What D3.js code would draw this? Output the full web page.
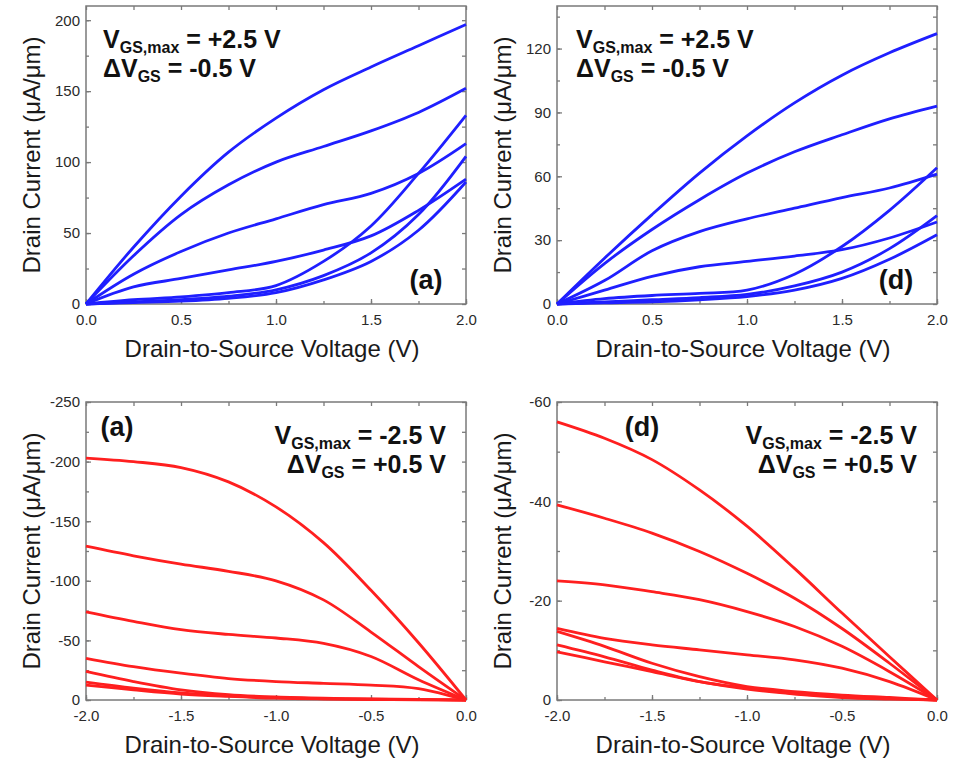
<!DOCTYPE html>
<html>
<head>
<meta charset="utf-8">
<script src="https://cdn.jsdelivr.net/npm/d3@7"></script>
<style>
  body { margin: 0; background: #fff; }
  svg { display: block; }
</style>
</head>
<body>
<svg id="chart" width="956" height="759"></svg>
<script>
// drain voltage sample points
const vdsPos = [0, 0.25, 0.5, 0.75, 1.0, 1.25, 1.5, 1.75, 2.0];
const vdsNeg = [-2.0, -1.75, -1.5, -1.25, -1.0, -0.75, -0.5, -0.25, 0];

// top-left (a), n-type, VGS = 2.5 .. -0.5
const nA = [
    [0, 40, 76, 107, 131, 151, 167, 182, 197],
    [0, 34, 63, 84, 100, 111, 122, 135, 152],
    [0, 21, 37, 50, 60, 70, 78, 92, 113],
    [0, 12, 18, 24, 30, 38, 48, 66, 88],
    [0, 3, 5, 8, 13, 30, 55, 92, 133],
    [0, 1.5, 3, 5.5, 10, 20, 36, 63, 104],
    [0, 1, 2, 4, 8, 17, 30, 52, 86]
];

// top-right (d)
const nD = [
    [0, 21.5, 42, 61.5, 79, 94.5, 107.5, 118, 127],
    [0, 19, 35, 49, 61.5, 71.5, 79.5, 87, 93],
    [0, 11, 25, 34, 40, 45, 50, 54.5, 61],
    [0, 6.5, 13, 17.5, 20, 22.5, 25.5, 31, 38.5],
    [0, 2.5, 4, 5, 6.5, 14, 27, 44, 64],
    [0, 1, 2, 3, 4.5, 8.5, 15, 26, 41.5],
    [0, 0.5, 1, 2, 3.5, 6.5, 12, 21, 32.5]
];

// bottom-left (a), p-type
const pA = [
    [-203, -200, -195, -183, -162, -132, -92, -48, 0],
    [-129, -121, -114, -108, -100, -84, -57, -28, 0],
    [-74, -66, -59, -55, -52, -47.5, -36.5, -17, 0],
    [-35, -28, -22.5, -18, -15.5, -14, -12.5, -9.5, 0],
    [-24, -15.5, -8.5, -4.5, -2.5, -1.5, -1, -0.5, 0],
    [-15, -10, -6, -3.5, -2, -1.2, -0.7, -0.3, 0],
    [-12.5, -8.5, -5, -3, -1.5, -0.8, -0.4, -0.2, 0]
];

// bottom-right (d)
const pD = [
    [-56, -52.7, -48.4, -42.3, -35, -26.5, -17.5, -8.7, 0],
    [-39.3, -36.6, -33.6, -29.9, -25.5, -20.5, -14.4, -7.4, 0],
    [-24, -23.2, -21.8, -20.2, -17.8, -14.8, -10.8, -5.7, 0],
    [-14.4, -12.4, -11.1, -10.1, -9.1, -8.1, -6.4, -3.7, 0],
    [-13.8, -10.8, -7.4, -4.7, -2.7, -1.7, -1.0, -0.5, 0],
    [-11.1, -8.7, -6.0, -3.7, -2.4, -1.3, -0.7, -0.3, 0],
    [-9.7, -7.7, -5.7, -3.7, -2.2, -1.2, -0.5, -0.2, 0]
];

const xTicksPos = [0, 0.5, 1.0, 1.5, 2.0];
const xTicksNeg = [-2.0, -1.5, -1.0, -0.5, 0];
const yTicksA = [0, 50, 100, 150, 200];
const yTicksD = [0, 30, 60, 90, 120];
const yTicksPA = [0, -50, -100, -150, -200, -250];
const yTicksPD = [0, -20, -40, -60];

const FONT = '"Liberation Sans", Arial, sans-serif';
const loc = d3.formatLocale({ decimal: '.', thousands: ',', grouping: [3], currency: ['', ''], minus: '-' });
const f1 = loc.format('.1f');
const f0 = loc.format('d');

const svg = d3.select('#chart');

function drawPanel(p) {
    const x = d3.scaleLinear().domain(p.xDomain).range([p.left, p.right]);
    const y = d3.scaleLinear().domain(p.yDomain).range([p.bottom, p.top]);
    const g = svg.append('g');

    const minorX = d3.range(p.xDomain[0], p.xDomain[1] + 1e-9, 0.25);
    const minorY = d3.range(0, p.yDomain[1] * 1.0001, p.yMinor);

    // axes, ticks inside the frame
    const styleAxis = sel => {
        sel.select('.domain').remove();
        sel.selectAll('line').attr('stroke', '#7a7a7a').attr('stroke-width', 1.3);
        sel.selectAll('text').attr('font-family', FONT).attr('font-size', 15).attr('fill', '#2a2a2a');
    };

    g.append('g').attr('transform', `translate(0,${p.bottom})`)
        .call(d3.axisBottom(x).tickValues(p.xTicks).tickSizeInner(-5).tickSizeOuter(0).tickPadding(10).tickFormat(f1))
        .call(styleAxis);
    g.append('g').attr('transform', `translate(0,${p.bottom})`)
        .call(d3.axisBottom(x).tickValues(minorX).tickSizeInner(-3).tickSizeOuter(0).tickFormat(''))
        .call(styleAxis);
    g.append('g').attr('transform', `translate(0,${p.top})`)
        .call(d3.axisTop(x).tickValues(minorX).tickSizeInner(-4).tickSizeOuter(0).tickFormat(''))
        .call(styleAxis);

    g.append('g').attr('transform', `translate(${p.left},0)`)
        .call(d3.axisLeft(y).tickValues(p.yTicks).tickSizeInner(-5).tickSizeOuter(0).tickPadding(6).tickFormat(f0))
        .call(styleAxis);
    g.append('g').attr('transform', `translate(${p.left},0)`)
        .call(d3.axisLeft(y).tickValues(minorY).tickSizeInner(-3).tickSizeOuter(0).tickFormat(''))
        .call(styleAxis);
    g.append('g').attr('transform', `translate(${p.right},0)`)
        .call(d3.axisRight(y).tickValues(minorY).tickSizeInner(-4).tickSizeOuter(0).tickFormat(''))
        .call(styleAxis);

    g.append('rect')
        .attr('x', p.left).attr('y', p.top)
        .attr('width', p.right - p.left).attr('height', p.bottom - p.top)
        .attr('fill', 'none').attr('stroke', '#7a7a7a').attr('stroke-width', 1.5);

    const line = d3.line()
        .x((d, i) => x(p.xs[i]))
        .y(d => y(d))
        .curve(d3.curveCatmullRom.alpha(0.5));

    g.append('g').selectAll('path')
        .data(p.series)
        .enter().append('path')
        .attr('d', line)
        .attr('fill', 'none')
        .attr('stroke', p.color)
        .attr('stroke-width', 2.8)
        .attr('stroke-linejoin', 'round');

    // axis titles
    g.append('text')
        .attr('x', (p.left + p.right) / 2 - 4)
        .attr('y', p.bottom + 53)
        .attr('text-anchor', 'middle')
        .attr('font-family', FONT).attr('font-size', 24).attr('fill', '#1a1a1a')
        .text('Drain-to-Source Voltage (V)');

    g.append('text')
        .attr('transform', `translate(${p.left - 46},${(p.top + p.bottom) / 2}) rotate(-90)`)
        .attr('text-anchor', 'middle')
        .attr('font-family', FONT).attr('font-size', 24).attr('fill', '#1a1a1a')
        .text('Drain Current (\u03BCA/\u03BCm)');

    // annotation block
    const ann = g.append('g')
        .attr('font-family', FONT).attr('font-weight', 'bold').attr('fill', '#111');
    const l1 = ann.append('text')
        .attr('x', p.annX).attr('y', p.annY)
        .attr('text-anchor', p.annAnchor).attr('font-size', 25);
    l1.append('tspan').text('V');
    l1.append('tspan').attr('font-size', 16).attr('dy', 5).text('GS,max');
    l1.append('tspan').attr('dy', -5).text(p.ann1);

    const l2 = ann.append('text')
        .attr('x', p.annX).attr('y', p.annY + 29)
        .attr('text-anchor', p.annAnchor).attr('font-size', 25);
    l2.append('tspan').text('\u0394V');
    l2.append('tspan').attr('font-size', 16).attr('dy', 5).text('GS');
    l2.append('tspan').attr('dy', -5).text(p.ann2);

    ann.append('text')
        .attr('x', p.tagX).attr('y', p.tagY)
        .attr('text-anchor', 'middle').attr('font-size', 27)
        .text(p.tag);
}

drawPanel({
    xDomain: [0, 2], yDomain: [0, 210], xs: vdsPos, series: nA,
    left: 86, right: 466, top: 6, bottom: 304,
    xTicks: xTicksPos, yTicks: yTicksA, yMinor: 25, color: '#1f1fff',
    annX: 103, annY: 48, annAnchor: 'start', ann1: ' = +2.5 V', ann2: ' = -0.5 V',
    tag: '(a)', tagX: 426, tagY: 289
});

drawPanel({
    xDomain: [0, 2], yDomain: [0, 140], xs: vdsPos, series: nD,
    left: 557, right: 937, top: 6, bottom: 304,
    xTicks: xTicksPos, yTicks: yTicksD, yMinor: 15, color: '#1f1fff',
    annX: 576, annY: 48, annAnchor: 'start', ann1: ' = +2.5 V', ann2: ' = -0.5 V',
    tag: '(d)', tagX: 896, tagY: 289
});

drawPanel({
    xDomain: [-2, 0], yDomain: [0, -250], xs: vdsNeg, series: pA,
    left: 86, right: 466, top: 402, bottom: 700,
    xTicks: xTicksNeg, yTicks: yTicksPA, yMinor: -25, color: '#ff1f1f',
    annX: 446, annY: 444, annAnchor: 'end', ann1: ' = -2.5 V', ann2: ' = +0.5 V',
    tag: '(a)', tagX: 117, tagY: 436
});

drawPanel({
    xDomain: [-2, 0], yDomain: [0, -60], xs: vdsNeg, series: pD,
    left: 557, right: 937, top: 402, bottom: 700,
    xTicks: xTicksNeg, yTicks: yTicksPD, yMinor: -10, color: '#ff1f1f',
    annX: 917, annY: 444, annAnchor: 'end', ann1: ' = -2.5 V', ann2: ' = +0.5 V',
    tag: '(d)', tagX: 642, tagY: 436
});
</script>
</body>
</html>
